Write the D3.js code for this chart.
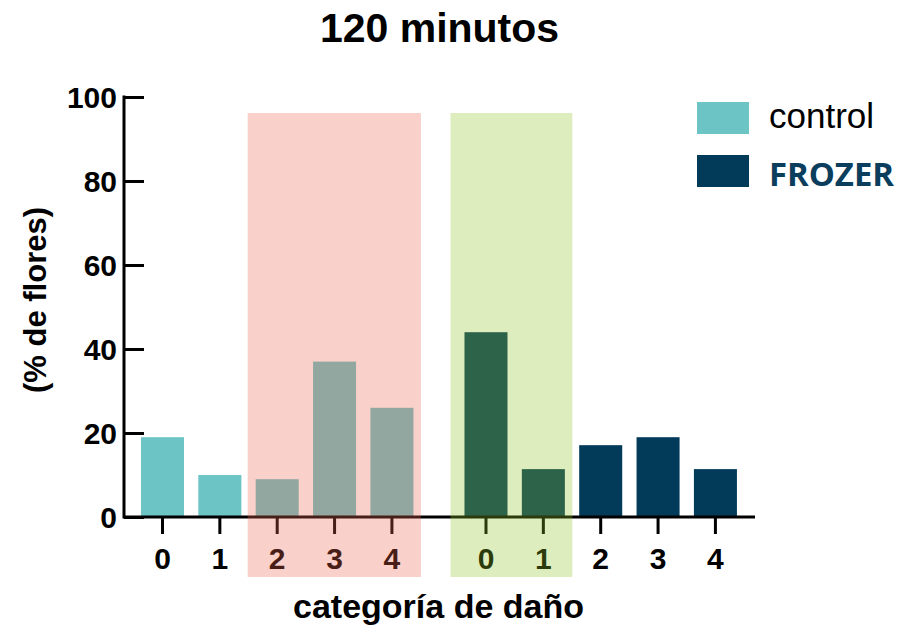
<!DOCTYPE html>
<html><head><meta charset="utf-8">
<script src="https://cdn.jsdelivr.net/npm/d3@7"></script>
<style>body{margin:0;background:#fff}svg{display:block}</style>
</head><body>
<script>
const categories = ["0","1","2","3","4"];
const controlValues = [19, 10, 9, 37, 26];
const frozerValues = [44, 11.4, 17.1, 19, 11.4];
const yTicks = [0, 20, 40, 60, 80, 100];
const seriesNames = ["control", "FROZER"];
const seriesColors = ["#6CC4C4", "#023A5A"];
const highlightSeries = ["control", "FROZER"];
const highlightFrom = [2, 0];
const highlightTo = [4, 1];
const highlightColors = ["rgb(240,100,80)", "rgb(145,195,37)"];

const W = 899, H = 629;
const svg = d3.select("body").append("svg").attr("width", W).attr("height", H);
const font = "Liberation Sans, Arial, Helvetica, sans-serif";

const groupGap = 5.64;
const x = d3.scaleLinear().domain([-0.671, 10.33]).range([124, 755]);
const y = d3.scaleLinear().domain([0, 100]).range([517, 97]);
const bw = x(0.75) - x(0);

const series = [controlValues, frozerValues];
const bars = [];
series.forEach((vals, s) => vals.forEach((v, i) => bars.push({s, i, v, pos: s * groupGap + i})));

svg.append("g").selectAll("rect").data(bars).join("rect")
  .attr("x", d => x(d.pos) - bw / 2)
  .attr("y", d => y(d.v))
  .attr("width", bw)
  .attr("height", d => y(0) - y(d.v))
  .attr("fill", d => seriesColors[d.s]);

// y axis (inner ticks)
const yAxis = d3.axisRight(y).tickValues(yTicks).tickSize(20).tickFormat("");
const gy = svg.append("g").attr("transform", `translate(${x.range()[0]},0)`).call(yAxis);
gy.select(".domain").remove();
gy.selectAll("line").attr("stroke", "#000").attr("stroke-width", 3);
svg.append("line").attr("x1", 124).attr("x2", 124).attr("y1", y(100) - 1.5).attr("y2", y(0) + 1.5)
  .attr("stroke", "#000").attr("stroke-width", 3);
svg.append("g").selectAll("text").data(yTicks).join("text")
  .attr("x", 117).attr("y", d => y(d) + 11)
  .attr("text-anchor", "end").attr("font-family", font).attr("font-weight", "bold")
  .attr("font-size", 30).text(d => d);

// x axis
svg.append("line").attr("x1", 124).attr("x2", 755).attr("y1", y(0)).attr("y2", y(0))
  .attr("stroke", "#000").attr("stroke-width", 3);
svg.append("g").selectAll("line").data(bars).join("line")
  .attr("x1", d => x(d.pos)).attr("x2", d => x(d.pos))
  .attr("y1", y(0)).attr("y2", y(0) + 17)
  .attr("stroke", "#000").attr("stroke-width", 3);
svg.append("g").selectAll("text").data(bars).join("text")
  .attr("x", d => x(d.pos)).attr("y", 569)
  .attr("text-anchor", "middle").attr("font-family", font).attr("font-weight", "bold")
  .attr("font-size", 30).text(d => categories[d.i]);

// highlight overlays
highlightSeries.forEach((name, k) => {
  const s = seriesNames.indexOf(name);
  const x0 = x(s * groupGap + highlightFrom[k]) - (k === 0 ? 29.5 : 35.5);
  const x1 = x(s * groupGap + highlightTo[k]) + 29;
  svg.append("rect").attr("x", x0).attr("y", 113).attr("width", x1 - x0).attr("height", 577 - 113)
    .attr("fill", highlightColors[k]).attr("fill-opacity", 0.3);
});

// title & labels
svg.append("text").attr("x", 439.5).attr("y", 42).attr("text-anchor", "middle")
  .attr("font-family", font).attr("font-weight", "bold").attr("font-size", 41)
  .text("120 minutos");
svg.append("text").attr("x", 438.5).attr("y", 618).attr("text-anchor", "middle")
  .attr("font-family", font).attr("font-weight", "bold").attr("font-size", 34)
  .text("categoría de daño");
svg.append("text").attr("transform", "translate(46,300) rotate(-90)").attr("text-anchor", "middle")
  .attr("font-family", font).attr("font-weight", "bold").attr("font-size", 31)
  .text("(% de flores)");

// legend
const leg = svg.append("g");
seriesNames.forEach((n, i) => {
  leg.append("rect").attr("x", 697).attr("y", 102 + i * 53).attr("width", 52).attr("height", 32)
    .attr("fill", seriesColors[i]);
  const t = leg.append("text").attr("x", 769).attr("y", i === 0 ? 128 : 186).text(n);
  if (i === 0) {
    t.attr("font-family", font).attr("font-size", 35).attr("fill", "#000");
  } else {
    t.attr("font-family", "Open Sans, sans-serif").attr("font-weight", "bold").attr("font-size", 33)
      .attr("fill", "#0B3D5C").attr("textLength", 125).attr("lengthAdjust", "spacingAndGlyphs");
  }
});
</script>
</body></html>
